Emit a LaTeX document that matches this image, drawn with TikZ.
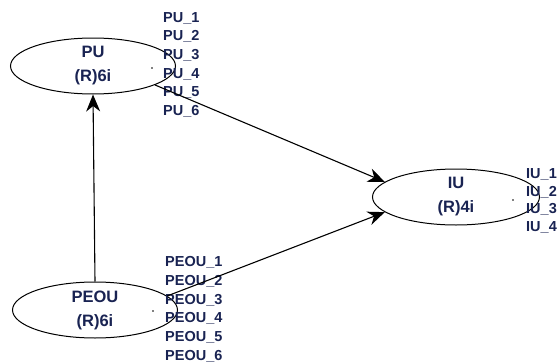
\documentclass[tikz,border=0pt]{standalone}
\usepackage{fontspec}
\setmainfont{Liberation Sans}
\usetikzlibrary{arrows.meta,shapes.geometric}
\definecolor{labelblue}{RGB}{25,35,82}
\begin{document}
\begin{tikzpicture}[x=1pt,y=-1pt,
  latent/.style={draw, line width=1pt, ellipse, minimum width=165pt, minimum height=56pt,
    inner sep=0pt, align=center, font=\bfseries\fontsize{16.5}{24}\selectfont, text=labelblue},
  indicator/.style={anchor=base west, inner sep=0pt, font=\bfseries\fontsize{14.5}{15}\selectfont, text=labelblue},
  pathline/.style={draw, line width=1.1pt, -{Stealth[length=17pt,width=14pt,inset=5.5pt]}},
  marker/.style={circle, fill=black, inner sep=0pt, minimum size=1.6pt}
]
\useasboundingbox (0,0) rectangle (557,364);

% latent constructs
\node[latent] (pu) at (93,66) {PU\\(R)6i};
\node[latent] (peou) at (95,310) {PEOU\\(R)6i};
\node[latent, minimum width=167pt] (iu) at (456,197) {IU\\(R)4i};

% centre markers
\node[marker] (pudot) at (152,68) {};
\node[marker] (peoudot) at (153,311) {};
\node[marker] (iudot) at (513,200) {};

% indicator labels
\foreach \i in {1,...,6}
  \node[indicator] (pu\i) at (163,{16.5+18.7*(\i-1)+5.5}) {PU\_\i};
\foreach \i in {1,...,6}
  \node[indicator] (peou\i) at (165,{261+18.8*(\i-1)+5.5}) {PEOU\_\i};
\foreach \i in {1,...,4}
  \node[indicator] (iu\i) at (526,{173+17.5*(\i-1)+5.5}) {IU\_\i};

% structural paths
\draw[pathline] (peou.north) -- (pu.south);
\draw[pathline] (pu.-17) -- (iu.168);
\draw[pathline] (peou.11) -- (iu.192);
\end{tikzpicture}
\end{document}
